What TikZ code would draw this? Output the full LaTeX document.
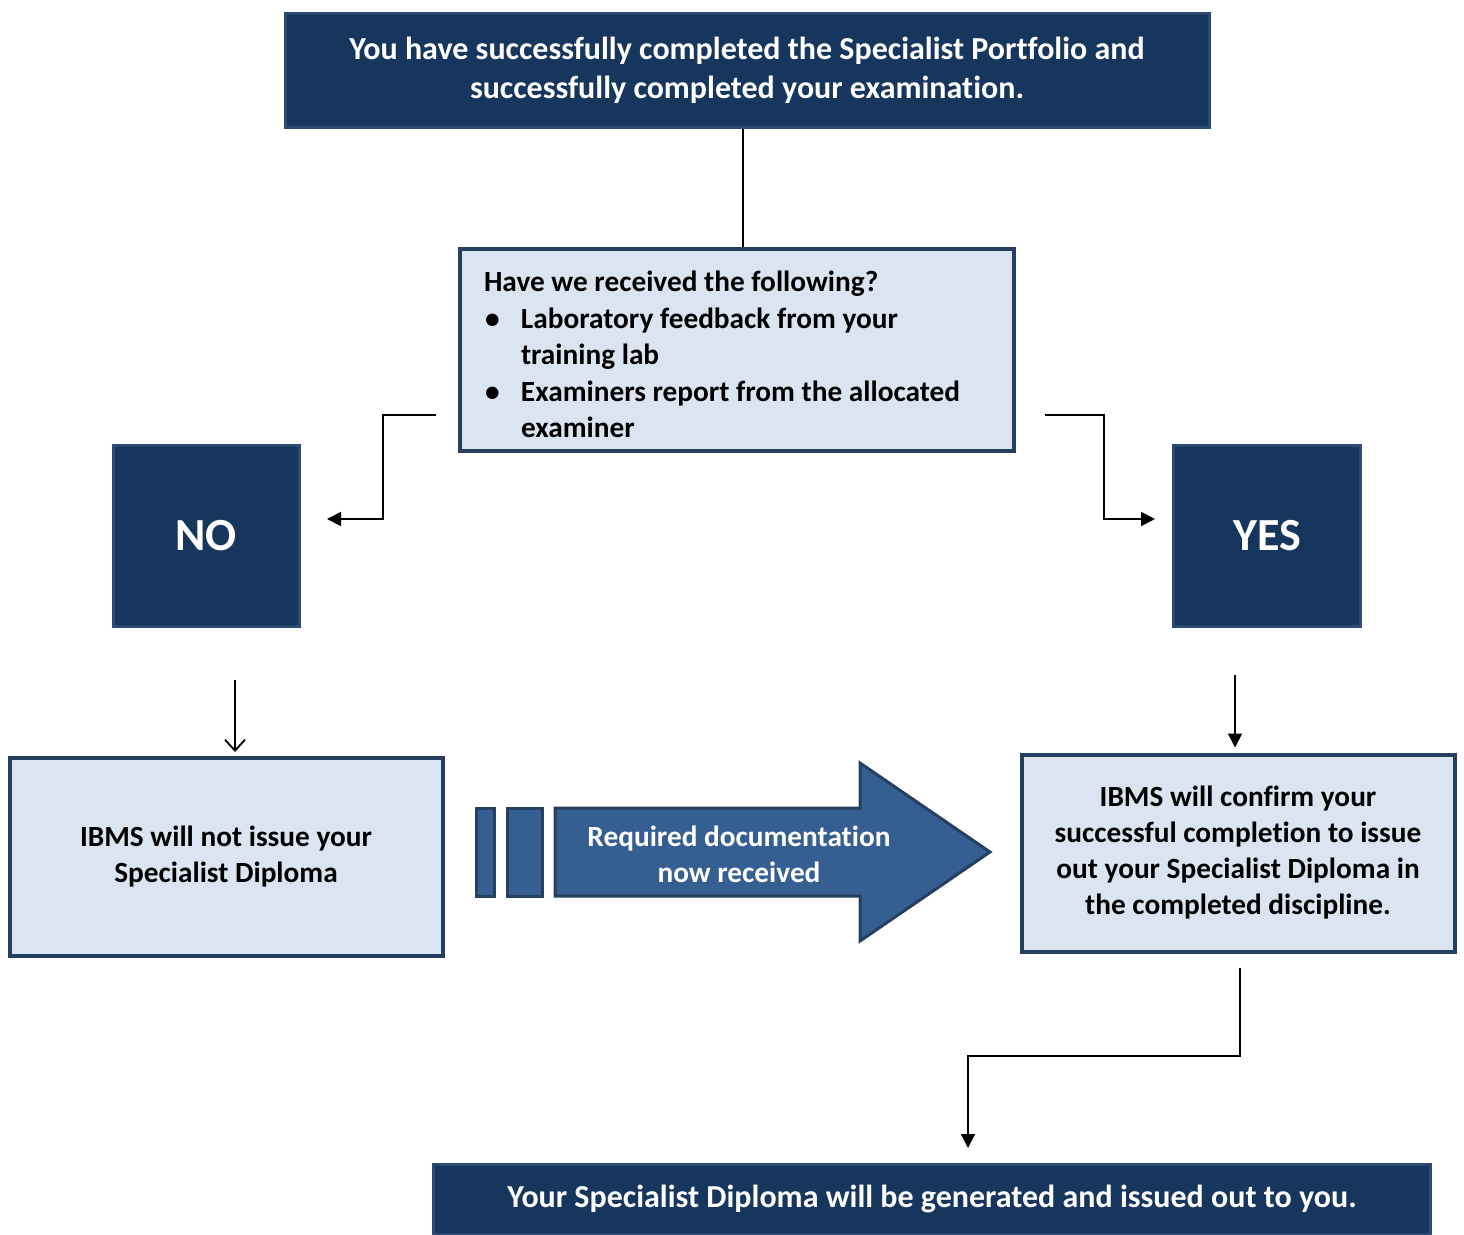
\documentclass[tikz,border=0pt]{standalone}
\usepackage{fontspec}
\setmainfont{Carlito}[Ligatures={NoCommon}]
\usetikzlibrary{arrows.meta, positioning}

\definecolor{navy}{HTML}{17365D}
\definecolor{navyedge}{HTML}{2C4B74}
\definecolor{paleblue}{HTML}{DBE5F1}
\definecolor{boxedge}{HTML}{243F60}
\definecolor{arrowblue}{HTML}{365F91}

\newcommand{\bul}{\makebox[37pt][l]{\hspace{1pt}•}}

\begin{document}
\begin{tikzpicture}[x=1pt, y=-1pt,
    darkbox/.style={draw=navyedge, line width=3pt, fill=navy, text=white,
        font=\bfseries\fontsize{32}{39}\selectfont, align=center, inner sep=0pt},
    lightbox/.style={draw=boxedge, line width=4pt, fill=paleblue,
        font=\bfseries\fontsize{29.3}{36}\selectfont, align=center, inner sep=0pt},
    bigword/.style={font=\bfseries\fontsize{46}{50}\selectfont},
    line/.style={line width=1.8pt},
    link/.style={line, -{Triangle[length=14pt, width=14pt]}},
    openlink/.style={line, -{Straight Barb[length=11pt, width=20pt, line width=1.8pt]}}
]
    \useasboundingbox (0,0) rectangle (1464,1234);

    \node[darkbox, minimum width=924pt, minimum height=114pt] (done) at (747,70)
        {You have successfully completed the Specialist Portfolio and\\successfully completed your examination.};

    \node[lightbox, align=flush left, minimum width=554pt, minimum height=202pt,
          text width=506pt, font=\bfseries\fontsize{29.3}{36.5}\selectfont] (query) at (737,350)
        {\rule{0pt}{30pt}Have we received the following?\\
         \bul Laboratory feedback from your\\
         \hspace*{37pt}training lab\\
         \bul Examiners report from the allocated\\
         \hspace*{37pt}examiner};

    \node[darkbox, bigword, minimum width=186pt, minimum height=181pt] (no) at (206,536) {NO};
    \node[darkbox, bigword, minimum width=187pt, minimum height=181pt] (yes) at (1267,536) {YES};

    \node[lightbox, minimum width=433pt, minimum height=198pt] (withheld) at (226,857)
        {IBMS will not issue your\\Specialist Diploma};
    \node[lightbox, minimum width=433pt, minimum height=197pt] (confirm) at (1238,853)
        {IBMS will confirm your\\successful completion to issue\\out your Specialist Diploma in\\the completed discipline.};

    \node[darkbox, minimum width=997pt, minimum height=70pt] (issued) at (932,1199)
        {Your Specialist Diploma will be generated and issued out to you.};

    % block arrow between the two lower boxes
    \draw[boxedge, fill=arrowblue, line width=3pt] (476,808) rectangle (494,896);
    \draw[boxedge, fill=arrowblue, line width=3pt] (507,808) rectangle (542,896);
    \draw[boxedge, fill=arrowblue, line width=3pt, line join=miter]
        (555,808) -- (860,808) -- (860,763) -- (990,852) -- (860,941) -- (860,896) -- (555,896) -- cycle;
    \node[text=white, align=center, font=\bfseries\fontsize{29.3}{36}\selectfont] (docs) at (739,854)
        {Required documentation\\now received};

    % connectors
    \coordinate (nofrom) at (436,415);
    \coordinate (noto) at (327,519);
    \coordinate (yesfrom) at (1045,415);
    \coordinate (yesto) at (1155,519);
    \coordinate (nodrop) at (235,680);
    \coordinate (yesdrop) at (1235,675);
    \coordinate (confirmout) at (1240,968);
    \coordinate (issuedin) at (968,1148);

    \draw[line] ([xshift=6pt]query.north) -- ([xshift=6pt]query.north |- done.south);
    \draw[link] (nofrom) -- ++(-53,0) |- (noto);
    \draw[link] (yesfrom) -- ++(59,0) |- (yesto);
    \draw[openlink, shorten >=4pt] (nodrop) -- (nodrop |- withheld.north);
    \draw[link, shorten >=5pt] (yesdrop) -- (yesdrop |- confirm.north);
    \draw[link] (confirmout) -- ++(0,88) -| (issuedin);

\end{tikzpicture}
\end{document}
